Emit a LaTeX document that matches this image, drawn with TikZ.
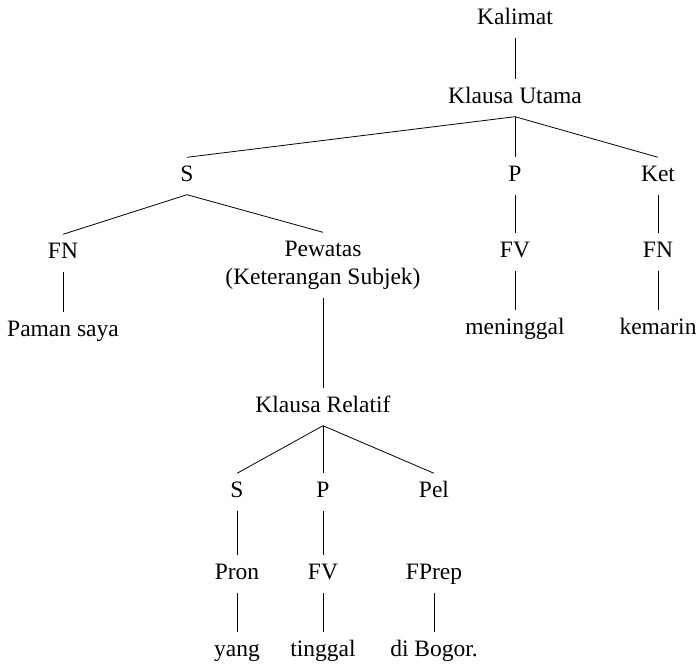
\documentclass[tikz,border=0pt]{standalone}
\usepackage{fontspec}
\setmainfont{Liberation Serif}
\usepackage{tikz}

\begin{document}
\begin{tikzpicture}[
    x=1pt, y=-1pt,
    font=\fontsize{23.5}{28}\selectfont,
    lbl/.style={inner xsep=0pt, inner ysep=8.5pt, text height=15.5pt, text depth=4.5pt},
    branch/.style={draw=black, line width=0.8pt}
  ]
    \useasboundingbox (0,0) rectangle (700,663);
    % main clause
    \node[lbl] (kal) at (515,19) {Kalimat};
    \node[lbl] (ku) at (515,98) {Klausa Utama};
    \node[lbl] (s) at (187,176) {S};
    \node[lbl] (p) at (515,176) {P};
    \node[lbl] (ket) at (658,176) {Ket};
    \node[lbl] (fn) at (63,253) {FN};
    \node[lbl] (pew) at (323,251) {Pewatas};
    \node[lbl] (pewk) at (323,279) {(Keterangan Subjek)};
    \node[lbl] (fv) at (515,252) {FV};
    \node[lbl] (fnk) at (658,252) {FN};
    \node[lbl] (paman) at (63,331) {Paman saya};
    \node[lbl] (mening) at (515,329) {meninggal};
    \node[lbl] (kemarin) at (658,329) {kemarin};
    % relative clause
    \node[lbl] (kr) at (323,407) {Klausa Relatif};
    \foreach \n/\x/\t in {rs/237/S, rp/323/P, pel/434/Pel} {
      \node[lbl] (\n) at (\x,492) {\t};
    }
    \foreach \n/\x/\t in {pron/237/Pron, rfv/323/FV, fprep/434/FPrep} {
      \node[lbl] (\n) at (\x,574) {\t};
    }
    \foreach \n/\x/\t in {yang/237/yang, tinggal/323/tinggal, bogor/434/di Bogor.} {
      \node[lbl] (\n) at (\x,651) {\t};
    }
    \foreach \a/\b in {kal/ku, ku/s, ku/p, ku/ket, s/fn, s/pew, p/fv, ket/fnk,
        fn/paman, fv/mening, fnk/kemarin, pewk/kr, kr/rs, kr/rp, kr/pel,
        rs/pron, rp/rfv, pron/yang, rfv/tinggal, fprep/bogor} {
      \draw[branch] (\a.south) -- (\b.north);
    }
  \end{tikzpicture}
\end{document}
